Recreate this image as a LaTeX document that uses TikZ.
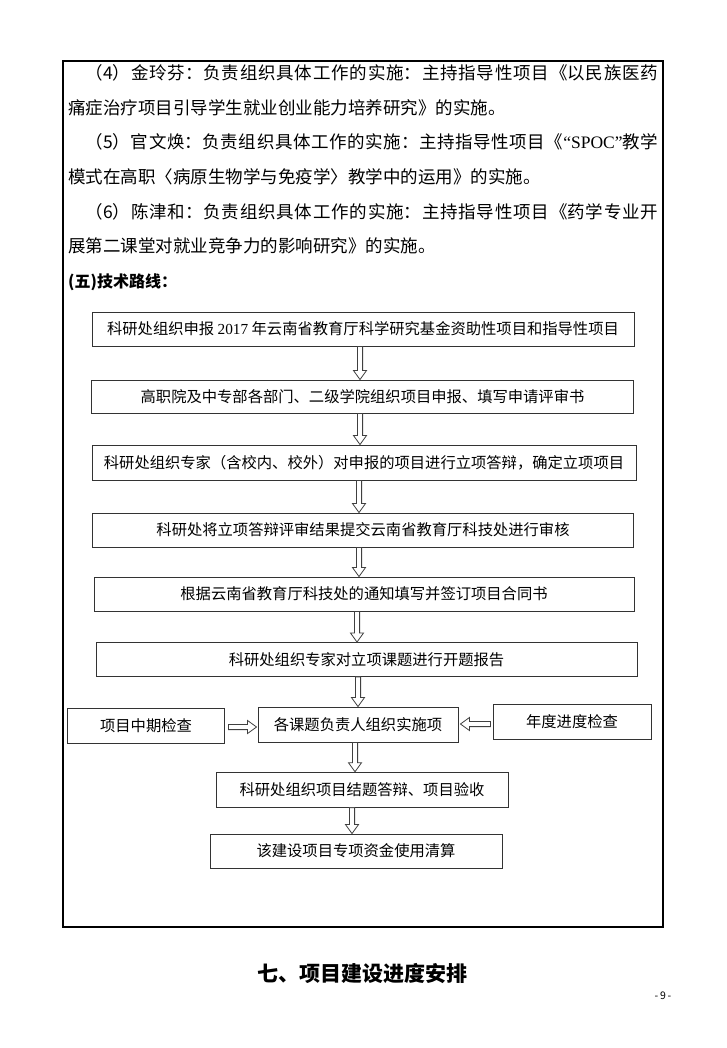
\documentclass[tikz,border=0pt]{standalone}
\usepackage{fontspec}
\setmainfont{Noto Sans CJK SC}
\newfontfamily\latin{Liberation Serif}
\XeTeXlinebreaklocale "zh"
\XeTeXlinebreakskip=0pt plus 1pt minus 0.3pt
\usetikzlibrary{calc,positioning}

% hollow block arrow from one point to another
\newcommand{\hollow}[2]{%
  \draw[blk] ($(#1)!2.6pt!90:(#2)$) -- ($(#2)!9pt!(#1)!2.6pt!90:(#2)$)
    -- ($(#2)!9pt!(#1)!6.5pt!90:(#2)$) -- (#2)
    -- ($(#2)!9pt!(#1)!6.5pt!-90:(#2)$) -- ($(#2)!9pt!(#1)!2.6pt!-90:(#2)$)
    -- ($(#1)!2.6pt!-90:(#2)$) -- cycle;}
% straight down between two stages, at a given x
\newcommand{\downflow}[3]{%
  \coordinate (ax) at (#3,0);
  \hollow{ax |- #1.south}{ax |- #2.north}}

\begin{document}
\begin{tikzpicture}[
  x=1pt, y=-1pt,
  frame/.style={draw=black, line width=1.4pt},
  body/.style={anchor=base west, inner sep=0pt, text width=590pt, align=justify,
    font=\fontsize{17.5}{34.6}\selectfont},
  head/.style={anchor=west, inner sep=0pt, font=\fontsize{16}{18}\selectfont\bfseries},
  stage/.style={draw=black!80, line width=0.9pt, inner sep=0pt,
    minimum width=542pt, minimum height=34pt, font=\fontsize{15.3}{18}\selectfont},
  blk/.style={draw=black!75, line width=0.8pt, fill=white},
  title/.style={inner sep=0pt, font=\fontsize{21}{24}\selectfont\bfseries},
  pgno/.style={inner sep=0pt, font=\fontsize{10.5}{12}\selectfont}
]
  \useasboundingbox (0,0) rectangle (726,1048);
  \fill[white] (0,0) rectangle (726,1048);
  \draw[frame] (63,61) rectangle (663,927);

  \node[body] (duties) at (68,79.7) {\hspace*{1em}（4）金玲芬：负责组织具体工作的实施：主持指导性项目《以民族医药\linebreak 痛症治疗项目引导学生就业创业能力培养研究》的实施。\par\hspace*{1em}（5）官文焕：负责组织具体工作的实施：主持指导性项目《{\latin “SPOC”}教学\linebreak 模式在高职〈病原生物学与免疫学〉教学中的运用》的实施。\par\hspace*{1em}（6）陈津和：负责组织具体工作的实施：主持指导性项目《药学专业开\linebreak 展第二课堂对就业竞争力的影响研究》的实施。};
  \node[head] (route) at (68,282) {(五)技术路线：};

  \node[stage] (s1) at (363,329) {科研处组织申报 {\latin 2017} 年云南省教育厅科学研究基金资助性项目和指导性项目};
  \node[stage, minimum height=33pt] (s2) at (362.5,396.5) {高职院及中专部各部门、二级学院组织项目申报、填写申请评审书};
  \node[stage, minimum width=544pt, minimum height=35pt] (s3) at (364,462.5) {科研处组织专家（含校内、校外）对申报的项目进行立项答辩，确定立项项目};
  \node[stage, minimum width=541pt] (s4) at (363,530) {科研处将立项答辩评审结果提交云南省教育厅科技处进行审核};
  \node[stage, minimum width=540pt] (s5) at (364,594) {根据云南省教育厅科技处的通知填写并签订项目合同书};
  \node[stage, minimum width=541pt] (s6) at (366.5,659.5) {科研处组织专家对立项课题进行开题报告};

  \node[stage, minimum width=157pt, minimum height=35pt] (midchk) at (146,726) {项目中期检查};
  \node[stage, minimum width=200pt, minimum height=35pt] (run) at (358,724.5) {各课题负责人组织实施项};
  \node[stage, minimum width=158pt, minimum height=35pt] (yearchk) at (572,722) {年度进度检查};

  \node[stage, minimum width=292pt, minimum height=35pt] (close) at (362,789.7) {科研处组织项目结题答辩、项目验收};
  \node[stage, minimum width=292pt] (settle) at (356,851) {该建设项目专项资金使用清算};

  \downflow{s1}{s2}{360}
  \downflow{s2}{s3}{360}
  \downflow{s3}{s4}{359}
  \downflow{s4}{s5}{359}
  \downflow{s5}{s6}{357}
  \downflow{s6}{run}{358}
  \downflow{run}{close}{355}
  \downflow{close}{settle}{352}

  \coordinate (ay) at (0,727);
  \coordinate (by) at (0,724);
  \coordinate (l1) at ($(midchk.east |- ay)+(3.5,0)$);
  \coordinate (l2) at ($(run.west |- ay)+(-1,0)$);
  \coordinate (r1) at ($(yearchk.west |- by)+(-2,0)$);
  \coordinate (r2) at ($(run.east |- by)+(2,0)$);
  \hollow{l1}{l2}
  \hollow{r1}{r2}

  \node[title] (nextsec) at (362,973) {七、项目建设进度安排};
  \node[pgno] (page) at (663,996) {-\,9\,-};
\end{tikzpicture}
\end{document}
